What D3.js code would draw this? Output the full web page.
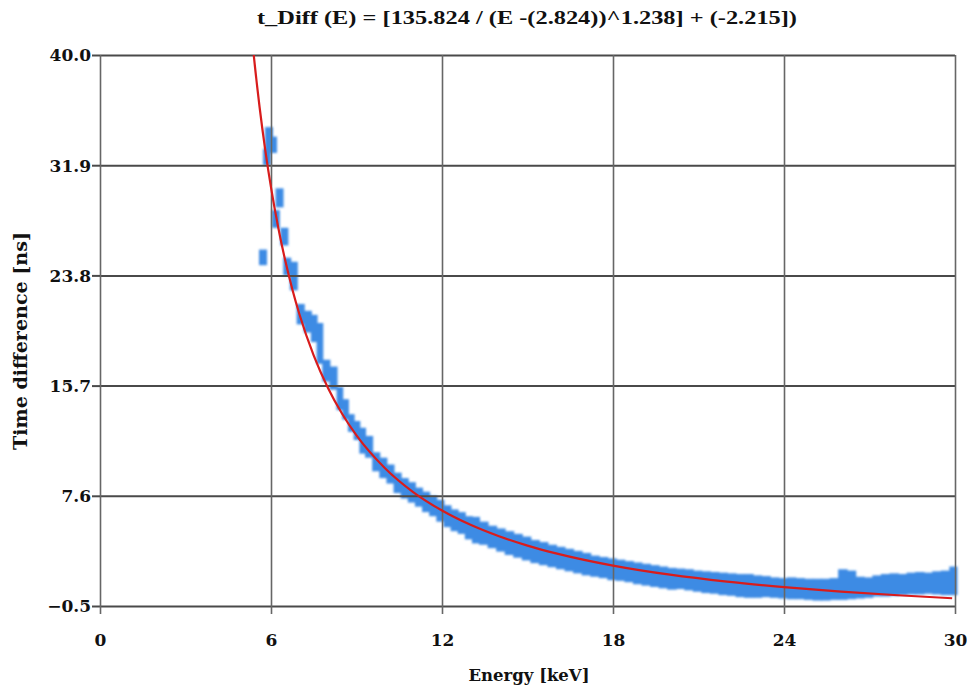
<!DOCTYPE html>
<html>
<head>
<meta charset="utf-8">
<script src="https://cdn.jsdelivr.net/npm/d3@7"></script>
<style>
  body { margin: 0; background: #fff; }
  text { font-family: "DejaVu Serif", serif; font-weight: bold; fill: #111; }
</style>
</head>
<body>
<svg id="chart"></svg>
<script>
// tick labels
var xTicks = [0, 6, 12, 18, 24, 30];
var yTicks = [-0.5, 7.6, 15.7, 23.8, 31.9, 40.0];

// measured band: energy (keV), upper / lower edge of the time difference (ns)
var bandE = [6.90, 7.15, 7.40, 7.60, 7.80, 8.05, 8.30, 8.50, 8.70, 8.90, 9.10, 9.30, 9.55, 9.80,
  10.05, 10.30, 10.55, 10.80, 11.05, 11.30, 11.55, 11.80, 12.05, 12.30, 12.55, 12.80, 13.05, 13.3,
  13.6, 13.9, 14.2, 14.5, 14.8, 15.1, 15.4, 15.7, 16.0, 16.3, 16.6, 16.9, 17.2, 17.5, 17.8, 18.1,
  18.4, 18.7, 19.0, 19.3, 19.6, 19.9, 20.2, 20.5, 20.8, 21.1, 21.4, 21.7, 22.0, 22.3, 22.6, 22.9,
  23.2, 23.5, 23.8, 24.1, 24.4, 24.7, 25.0, 25.3, 25.6, 25.9, 26.2, 26.5, 26.8, 27.1, 27.4, 27.7,
  28.0, 28.3, 28.6, 28.9, 29.2, 29.5, 29.8];
var bandHi = [21.7, 21.2, 20.9, 20.3, 17.6, 17.1, 15.6, 14.7, 13.6, 13.1, 12.6, 12.0, 10.8, 10.4,
  9.9, 9.3, 8.9, 8.6, 8.2, 7.9, 7.6, 7.3, 6.9, 6.6, 6.4, 6.1, 6.05, 5.7,
  5.4, 5.2, 5.0, 4.8, 4.6, 4.35, 4.2, 4.0, 3.85, 3.7, 3.55, 3.4, 3.2, 3.1, 3.0, 2.9,
  2.8, 2.7, 2.6, 2.5, 2.4, 2.3, 2.25, 2.2, 2.1, 2.05, 2.0, 1.95, 1.9, 1.85, 1.85, 1.75,
  1.7, 1.6, 1.55, 1.6, 1.55, 1.5, 1.5, 1.5, 1.55, 2.2, 2.1, 1.65, 1.6, 1.75, 1.85, 1.9,
  1.85, 1.95, 2.0, 1.95, 2.05, 2.1, 2.4];
var bandLo = [20.2, 19.6, 18.9, 17.3, 16.0, 15.4, 13.9, 13.2, 12.3, 11.7, 10.7, 10.4, 9.4, 8.9,
  8.5, 7.8, 7.4, 7.1, 6.8, 6.4, 6.1, 5.7, 5.3, 5.0, 4.8, 4.4, 4.1, 4.0,
  3.75, 3.5, 3.25, 3.05, 2.85, 2.65, 2.5, 2.35, 2.2, 2.05, 1.9, 1.75, 1.65, 1.55, 1.4, 1.35,
  1.25, 1.1, 1.0, 0.9, 0.8, 0.7, 0.75, 0.65, 0.55, 0.45, 0.4, 0.3, 0.25, 0.15, 0.1, 0.1,
  0.15, 0.1, 0.05, 0.0, 0.0, -0.05, -0.1, -0.1, -0.05, -0.05, 0.0, 0.05, 0.1, 0.2, 0.2, 0.25,
  0.3, 0.35, 0.35, 0.4, 0.35, 0.3, 0.3];
var bandEnd = 30.05;

// isolated low-energy blocks
var scatterE = [5.93, 6.07, 5.86, 6.30, 6.17, 6.47, 5.72, 6.57, 6.80];
var scatterHi = [34.7, 34.0, 33.1, 30.2, 28.6, 27.3, 25.7, 25.1, 24.8];
var scatterLo = [32.85, 32.8, 31.9, 28.8, 27.3, 26.0, 24.55, 23.8, 22.7];

// fitted curve
var fitE = [5.35, 5.4, 5.6, 5.8, 6.0, 6.25, 6.5, 6.75, 7.0, 7.5, 8.0, 8.5, 9.0, 10, 11, 12, 13,
  14, 15, 16, 18, 20, 22, 24, 26, 28, 29.9];
var fitT = [40.91, 39.88, 36.16, 32.99, 30.27, 27.36, 24.89, 22.77, 20.93, 17.91, 15.53, 13.61,
  12.04, 9.63, 7.86, 6.52, 5.47, 4.63, 3.94, 3.37, 2.47, 1.80, 1.29, 0.89, 0.56, 0.29, 0.07];

var margin = { top: 55, right: 12, bottom: 83, left: 100 };
var width = 855;
var height = 551;

var root = d3.select("#chart")
  .attr("width", width + margin.left + margin.right)
  .attr("height", height + margin.top + margin.bottom);

var defs = root.append("defs");
defs.append("filter").attr("id", "soft")
  .append("feGaussianBlur").attr("stdDeviation", 0.8);

var svg = root.append("g")
  .attr("transform", "translate(" + margin.left + "," + margin.top + ")");

var x = d3.scaleLinear().domain([0, 30]).range([0, width]);
var y = d3.scaleLinear().domain([-0.5, 40]).range([height, 0]);

svg.append("clipPath").attr("id", "plotclip")
  .append("rect").attr("width", width).attr("height", height);

// blue data band
var dots = svg.append("g").attr("filter", "url(#soft)");

var band = bandE.map(function (e, i) {
  return { e0: e, e1: i < bandE.length - 1 ? bandE[i + 1] : bandEnd, hi: bandHi[i], lo: bandLo[i] };
});
dots.selectAll("rect.band")
  .data(band)
  .enter()
  .append("rect")
  .attr("class", "band")
  .attr("x", function (d) { return x(d.e0); })
  .attr("width", function (d) { return x(d.e1) - x(d.e0) + 1; })
  .attr("y", function (d) { return y(d.hi); })
  .attr("height", function (d) { return y(d.lo) - y(d.hi); })
  .attr("fill", "#3d8be4");

dots.selectAll("rect.scatter")
  .data(scatterE)
  .enter()
  .append("rect")
  .attr("class", "scatter")
  .attr("x", function (d) { return x(d) - 4; })
  .attr("width", 8)
  .attr("y", function (d, i) { return y(scatterHi[i]); })
  .attr("height", function (d, i) { return y(scatterLo[i]) - y(scatterHi[i]); })
  .attr("fill", "#3d8be4");

// grid
svg.append("g")
  .attr("class", "grid")
  .call(d3.axisLeft(y).tickValues(yTicks).tickSize(-width).tickFormat(""))
  .call(function (g) { g.select(".domain").remove(); })
  .selectAll("line").attr("stroke", "#4a4a4a").attr("stroke-width", 2);

svg.append("g")
  .attr("class", "grid")
  .call(d3.axisBottom(x).tickValues(xTicks).tickSize(height).tickFormat(""))
  .call(function (g) { g.select(".domain").remove(); })
  .selectAll("line").attr("stroke", "#666").attr("stroke-width", 1.6);

// axes with outward ticks and labels
svg.append("g")
  .call(d3.axisLeft(y).tickValues(yTicks).tickSize(8).tickPadding(1).tickFormat(d3.format(".1f")))
  .call(function (g) { g.select(".domain").remove(); })
  .call(function (g) {
    g.selectAll("line").attr("stroke", "#4a4a4a").attr("stroke-width", 2);
    g.selectAll("text").style("font-size", "17px").attr("fill", "#111").attr("dy", "0.35em");
  });

svg.append("g")
  .attr("transform", "translate(0," + height + ")")
  .call(d3.axisBottom(x).tickValues(xTicks).tickSize(8).tickPadding(20))
  .call(function (g) { g.select(".domain").remove(); })
  .call(function (g) {
    g.selectAll("line").attr("stroke", "#666").attr("stroke-width", 1.6);
    g.selectAll("text").style("font-size", "17px").attr("fill", "#111");
  });

// fit line
var line = d3.line()
  .x(function (d, i) { return x(fitE[i]); })
  .y(function (d) { return y(d); })
  .curve(d3.curveMonotoneX);

svg.append("path")
  .datum(fitT)
  .attr("clip-path", "url(#plotclip)")
  .attr("d", line)
  .attr("fill", "none")
  .attr("stroke", "#d81c1c")
  .attr("stroke-width", 2.2);

// title and labels
root.append("text")
  .attr("x", 527)
  .attr("y", 24)
  .attr("text-anchor", "middle")
  .style("font-family", "'Liberation Serif', serif")
  .style("font-size", "19px")
  .attr("textLength", 540)
  .attr("lengthAdjust", "spacingAndGlyphs")
  .text("t_Diff (E) = [135.824 / (E -(2.824))^1.238] + (-2.215])");

root.append("text")
  .attr("x", 529)
  .attr("y", 681)
  .attr("text-anchor", "middle")
  .style("font-size", "16.5px")
  .text("Energy [keV]");

root.append("text")
  .attr("transform", "translate(27,341)rotate(-90)")
  .attr("text-anchor", "middle")
  .style("font-size", "18px")
  .attr("textLength", 218)
  .attr("lengthAdjust", "spacingAndGlyphs")
  .text("Time difference [ns]");
</script>
</body>
</html>
